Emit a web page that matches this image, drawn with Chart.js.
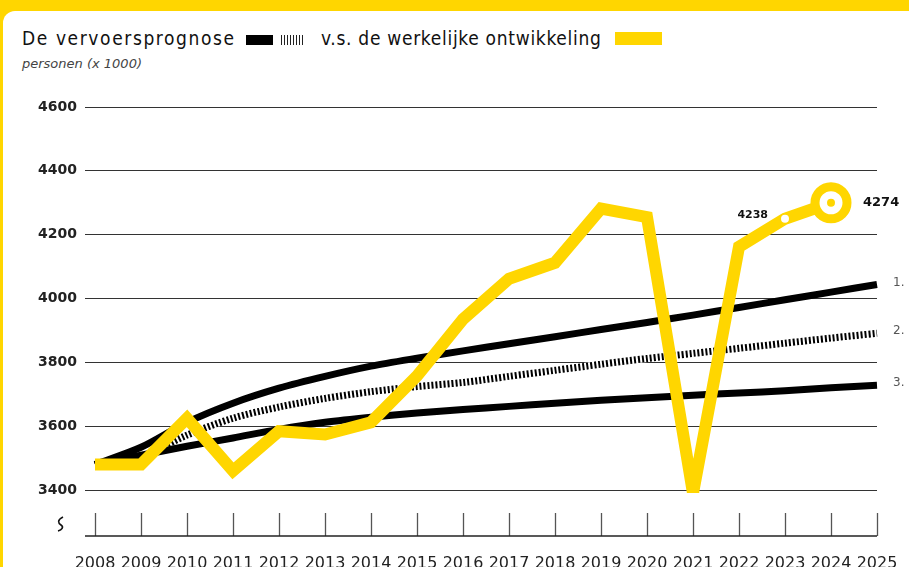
<!DOCTYPE html>
<html lang="nl">
  <head>
    <meta charset="UTF-8" />
    <title>Vervoersprognose</title>
    <script src="https://cdn.jsdelivr.net/npm/chart.js"></script>
    <style>
      html,
      body {
        margin: 0;
        width: 909px;
        height: 567px;
        overflow: hidden;
        background: #ffd600;
      }
      .card {
        position: absolute;
        left: 3px;
        top: 11px;
        right: 0;
        bottom: 0;
        background: #fff;
        border-top-left-radius: 12px;
      }
      .txt {
        position: absolute;
        font-family: "DejaVu Sans";
        font-stretch: condensed;
        color: #111;
        white-space: nowrap;
      }
      .title {
        top: 27px;
        font-size: 19px;
      }
      .sub {
        left: 22px;
        top: 56px;
        font-size: 13px;
        font-stretch: normal;
        font-style: italic;
        color: #444;
      }
      .sw {
        position: absolute;
      }
      #chart {
        position: absolute;
        left: 0;
        top: 0;
      }
    </style>
  </head>
  <body>
    <div class="card"></div>
    <div class="txt title" style="left: 22px; letter-spacing: 1.6px">De vervoersprognose</div>
    <div class="sw" style="left: 246px; top: 35px; width: 27px; height: 10px; background: #000"></div>
    <div
      class="sw"
      style="left: 281px; top: 35px; width: 23px; height: 10px;
        background: repeating-linear-gradient(90deg, #222 0 1px, transparent 1px 3px)"
    ></div>
    <div class="txt title" style="left: 321px; letter-spacing: 0.7px">v.s. de werkelijke ontwikkeling</div>
    <div class="sw" style="left: 615px; top: 32px; width: 47px; height: 13px; background: #ffd600"></div>
    <div class="txt sub">personen (x 1000)</div>

    <canvas id="chart" width="909" height="567"></canvas>

    <script>
      const years = ["2008", "2009", "2010", "2011", "2012", "2013", "2014", "2015", "2016",
        "2017", "2018", "2019", "2020", "2021", "2022", "2023", "2024", "2025"];

      // werkelijke ontwikkeling
      const actual = [3480, 3480, 3625, 3460, 3584, 3574, 3612, 3757, 3935,
        4062, 4112, 4282, 4255, 3390, 4162, 4250, 4300, null];

      // prognoses 1, 2, 3
      const forecastHigh = [3480, 3534, 3612, 3672, 3719, 3756, 3788, 3813, 3836,
        3858, 3880, 3903, 3925, 3948, 3972, 3996, 4020, 4044];
      const forecastMid = [3480, 3505, 3572, 3625, 3660, 3687, 3708, 3724, 3737,
        3756, 3775, 3794, 3812, 3828, 3844, 3860, 3876, 3891];
      const forecastLow = [3480, 3509, 3537, 3563, 3590, 3612, 3628, 3641, 3652,
        3662, 3672, 3681, 3689, 3697, 3704, 3711, 3720, 3728];

      const yTicks = [3400, 3600, 3800, 4000, 4200, 4400, 4600];
      const forecastLabels = ["1.", "2.", "3."];
      const notes = [
        { year: "2023", text: "4238" },
        { year: "2024", text: "4274" },
      ];

      const YELLOW = "#ffd600";
      const ringIndex = years.indexOf("2024");
      const dotIndex = years.indexOf("2023");

      Chart.defaults.font.family = "'DejaVu Sans'";

      // extra axis decoration + labels
      const extras = {
        id: "extras",
        afterDatasetsDraw(chart) {
          const { ctx, chartArea, scales } = chart;
          const x = scales.x;
          const y = scales.y;
          ctx.save();

          // x tick marks and baseline
          ctx.strokeStyle = "#555";
          ctx.lineWidth = 1.3;
          years.forEach((yr, i) => {
            const px = Math.round(x.getPixelForValue(i)) + 0.5;
            ctx.beginPath();
            ctx.moveTo(px, 513);
            ctx.lineTo(px, 536);
            ctx.stroke();
          });
          ctx.strokeStyle = "#222";
          ctx.lineWidth = 1.5;
          ctx.beginPath();
          ctx.moveTo(chartArea.left - 10, 536);
          ctx.lineTo(chartArea.right, 536);
          ctx.stroke();

          // axis break mark
          ctx.strokeStyle = "#111";
          ctx.lineWidth = 1.6;
          ctx.beginPath();
          ctx.moveTo(63, 517);
          ctx.bezierCurveTo(57, 520, 58, 523, 61, 525);
          ctx.bezierCurveTo(64, 527, 62, 530, 58, 531);
          ctx.stroke();

          // forecast numbers at right
          ctx.fillStyle = "#555";
          ctx.font = "12px 'DejaVu Sans'";
          ctx.textBaseline = "middle";
          ctx.textAlign = "left";
          [forecastHigh, forecastMid, forecastLow].forEach((arr, i) => {
            const last = arr.length - 1;
            ctx.fillText(forecastLabels[i], chartArea.right + 16, y.getPixelForValue(arr[last]) - 2);
          });

          // value notes
          ctx.fillStyle = "#111";
          notes.forEach((n) => {
            const i = years.indexOf(n.year);
            const px = x.getPixelForValue(i);
            const py = y.getPixelForValue(actual[i]);
            if (i === ringIndex) {
              ctx.font = "bold 13px 'DejaVu Sans'";
              ctx.textAlign = "left";
              ctx.fillText(n.text, px + 32, py);
            } else {
              ctx.font = "bold 11px 'DejaVu Sans'";
              ctx.textAlign = "right";
              ctx.fillText(n.text, px - 17, py - 4);
            }
          });
          ctx.restore();
        },
      };

      new Chart(document.getElementById("chart"), {
        type: "line",
        data: {
          labels: years,
          datasets: [
            {
              label: "markers",
              data: actual.map((v, i) => (i === dotIndex || i === ringIndex ? v : null)),
              showLine: false,
              pointRadius: 4,
              pointBorderWidth: 0,
              pointBackgroundColor: (c) => (c.dataIndex === dotIndex ? "#fff" : YELLOW),
              order: 0,
            },
            {
              label: "werkelijk",
              data: actual,
              borderColor: YELLOW,
              borderWidth: 12,
              tension: 0,
              pointRadius: (c) => (c.dataIndex === ringIndex ? 16 : 0),
              pointBorderWidth: 9,
              pointBorderColor: YELLOW,
              pointBackgroundColor: "#fff",
              clip: { left: 8, top: 40, right: 40, bottom: 3 },
              order: 1,
            },
            {
              label: "1",
              data: forecastHigh,
              borderColor: "#000",
              borderWidth: 7,
              tension: 0.3,
              pointRadius: 0,
              order: 2,
            },
            {
              label: "3",
              data: forecastLow,
              borderColor: "#000",
              borderWidth: 7,
              tension: 0.3,
              pointRadius: 0,
              order: 3,
            },
            {
              label: "2",
              data: forecastMid,
              borderColor: "#000",
              borderWidth: 7,
              borderDash: [2, 2],
              borderCapStyle: "butt",
              tension: 0.3,
              pointRadius: 0,
              order: 4,
            },
            {
              label: "2-bg",
              data: forecastMid,
              borderColor: "#fff",
              borderWidth: 7,
              tension: 0.3,
              pointRadius: 0,
              order: 5,
            },
          ],
        },
        options: {
          responsive: false,
          animation: false,
          layout: { padding: { left: 0, top: 107, right: 32, bottom: 0 } },
          plugins: {
            legend: { display: false },
            tooltip: { enabled: false },
          },
          scales: {
            x: {
              offset: false,
              grid: {
                display: true,
                drawOnChartArea: false,
                drawTicks: true,
                tickLength: 64,
                tickColor: "rgba(0,0,0,0)",
              },
              border: { display: false },
              ticks: {
                autoSkip: false,
                maxRotation: 0,
                padding: 0,
                color: "#222",
                font: { size: 16 },
              },
              afterFit: (s) => {
                s.height = 77;
              },
            },
            y: {
              min: 3400,
              max: 4600,
              afterBuildTicks: (s) => {
                s.ticks = yTicks.map((v) => ({ value: v }));
              },
              grid: { color: "#333", lineWidth: 1, tickLength: 10 },
              border: { display: false },
              ticks: {
                padding: 8,
                color: "#222",
                font: { size: 14, weight: "bold" },
                callback: (v) => String(v),
              },
              afterFit: (s) => {
                s.width = 95;
              },
            },
          },
        },
        plugins: [extras],
      });
    </script>
  </body>
</html>
